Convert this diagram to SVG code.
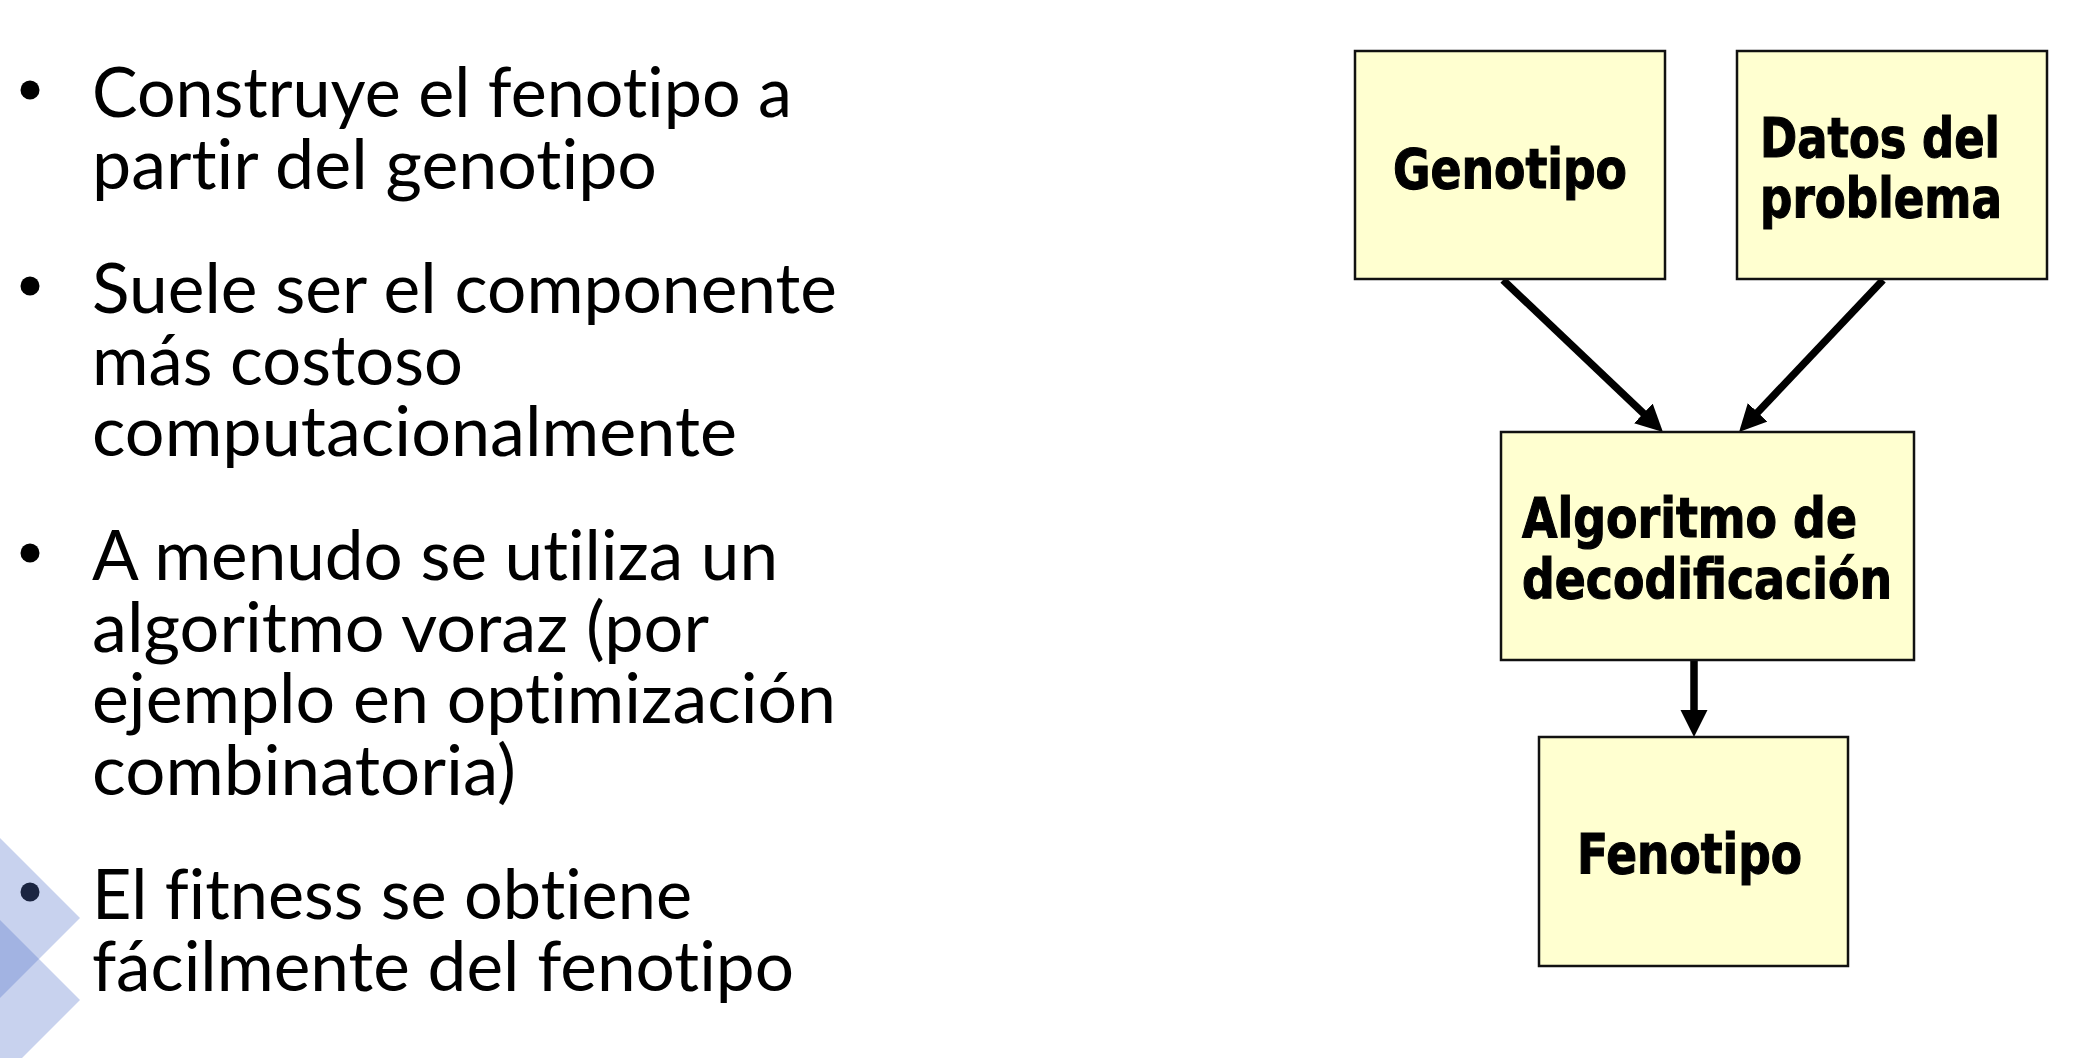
<svg xmlns="http://www.w3.org/2000/svg" width="2074" height="1058" viewBox="0 0 2074 1058">
<defs>
<style>
.box{fill:#ffffd0;stroke:#111;stroke-width:2.5}
.lbl{font-family:"DejaVu Sans","Liberation Sans",sans-serif;font-weight:bold;font-size:55px;fill:#000;stroke:#000;stroke-width:1.2}
.bt{font-family:Lato,"Liberation Sans",sans-serif;font-size:70px;fill:#000;font-variant-ligatures:none;font-feature-settings:"liga" 0}
.conn{stroke:#000;stroke-width:7.5;fill:none;marker-end:url(#ah)}
.dia{fill:#5474cb;fill-opacity:0.32}
</style>
<marker id="ah" markerUnits="userSpaceOnUse" markerWidth="28" markerHeight="28" refX="5" refY="13.5" orient="auto" viewBox="0 0 28 28">
<path d="M0,0 L27,13.5 L0,27 z" fill="#000"/>
</marker>
</defs>
<rect width="2074" height="1058" fill="#fff"/>
<g id="bullets">
<circle cx="30" cy="90" r="9.5" fill="#000"/>
<text class="bt" x="92" y="117" textLength="700" lengthAdjust="spacingAndGlyphs">Construye el fenotipo a</text>
<text class="bt" x="92" y="188.5" textLength="565" lengthAdjust="spacingAndGlyphs">partir del genotipo</text>
<circle cx="30" cy="286" r="9.5" fill="#000"/>
<text class="bt" x="92" y="313" textLength="745" lengthAdjust="spacingAndGlyphs">Suele ser el componente</text>
<text class="bt" x="92" y="384.5" textLength="371" lengthAdjust="spacingAndGlyphs">más costoso</text>
<text class="bt" x="92" y="456" textLength="645" lengthAdjust="spacingAndGlyphs">computacionalmente</text>
<circle cx="30" cy="553" r="9.5" fill="#000"/>
<text class="bt" x="92" y="580" textLength="686" lengthAdjust="spacingAndGlyphs">A menudo se utiliza un</text>
<text class="bt" x="92" y="651.5" textLength="617" lengthAdjust="spacingAndGlyphs">algoritmo voraz (por</text>
<text class="bt" x="92" y="723" textLength="744" lengthAdjust="spacingAndGlyphs">ejemplo en optimización</text>
<text class="bt" x="92" y="794.5" textLength="424" lengthAdjust="spacingAndGlyphs">combinatoria)</text>
<circle cx="30" cy="892" r="9.5" fill="#000"/>
<text class="bt" x="92" y="919" textLength="600" lengthAdjust="spacingAndGlyphs">El fitness se obtiene</text>
<text class="bt" x="92" y="990.5" textLength="702" lengthAdjust="spacingAndGlyphs">fácilmente del fenotipo</text>
</g>
<g id="decor">
<polygon class="dia" points="0,838 80,918 0,998"/>
<polygon class="dia" points="0,920 80,1000 0,1080"/>
</g>
<g id="connectors">
<line class="conn" x1="1503" y1="280" x2="1647" y2="416.8"/>
<line class="conn" x1="1883" y1="280" x2="1754.2" y2="416"/>
<line class="conn" x1="1694" y1="660" x2="1694" y2="715"/>
</g>
<g id="genotipo">
<rect class="box" x="1355" y="51" width="310" height="228"/>
<text class="lbl" x="1393" y="188" textLength="234" lengthAdjust="spacingAndGlyphs">Genotipo</text>
</g>
<g id="datos">
<rect class="box" x="1737" y="51" width="310" height="228"/>
<text class="lbl" x="1760" y="157" textLength="240" lengthAdjust="spacingAndGlyphs">Datos del</text>
<text class="lbl" x="1760" y="217" textLength="242" lengthAdjust="spacingAndGlyphs">problema</text>
</g>
<g id="algoritmo">
<rect class="box" x="1501" y="432" width="413" height="228"/>
<text class="lbl" x="1522" y="537" textLength="335" lengthAdjust="spacingAndGlyphs">Algoritmo de</text>
<text class="lbl" x="1522" y="598" textLength="370" lengthAdjust="spacingAndGlyphs">decodificación</text>
</g>
<g id="fenotipo">
<rect class="box" x="1539" y="737" width="309" height="229"/>
<text class="lbl" x="1577" y="873" textLength="225" lengthAdjust="spacingAndGlyphs">Fenotipo</text>
</g>
</svg>
